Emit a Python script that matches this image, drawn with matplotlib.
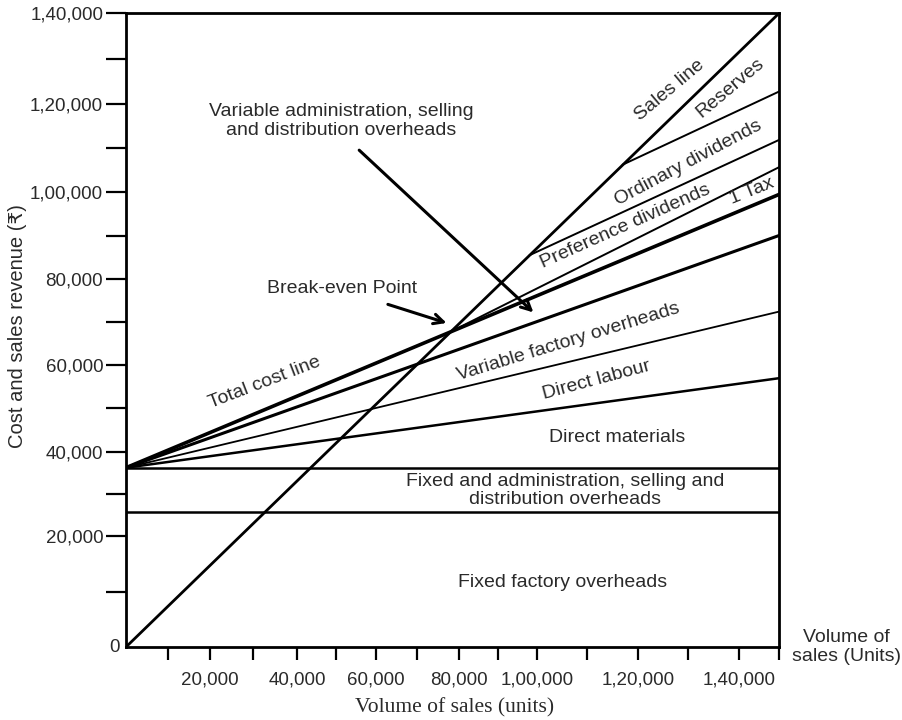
import matplotlib.pyplot as plt
import numpy as np

plt.rcParams['font.family'] = ['Liberation Sans', 'DejaVu Sans']

# volume of sales in units, cost and revenue in rupees
volume_max = 150000
sales_at_max = 140000
fixed_factory_oh = 25600
fixed_total_oh = 36200   # fixed factory + fixed admin, selling and distribution

# cost lines fan out from the fixed-cost level at nil volume
cost_lines = ['Direct materials', 'Direct labour', 'Variable factory overheads', 'Total cost']
cost_at_max = [57000, 72400, 90000, 99500]

# appropriation lines start on the sales line, past break-even
approp_lines = ['Tax', 'Preference dividends', 'Ordinary dividends']
approp_start_x = [78000, 98200, 117000]
approp_start_y = [67760, 85500, 106300]
approp_at_max = [105700, 111900, 122800]

x_major = [20000, 40000, 60000, 80000, 100000, 120000, 140000]
x_labels = ['20,000', '40,000', '60,000', '80,000', '1,00,000', '1,20,000', '1,40,000']
y_major = [20000, 40000, 60000, 80000, 100000, 120000, 140000]
y_labels = ['20,000', '40,000', '60,000', '80,000', '1,00,000', '1,20,000', '1,40,000']

# the printed scales are not evenly spaced, so map them piecewise
x_knots = [0, 20000, 40000, 60000, 80000, 100000, 120000, 140000, 150000]
x_knot_pos = [0, 84, 171, 250, 333, 411, 512, 613, 653]
y_knots = [0, 20000, 40000, 100000, 120000, 140000]
y_knot_pos = [0, 111, 195.3, 454.7, 542.7, 633.7]


def x_fwd(v):
    return np.interp(v, x_knots, x_knot_pos)


def x_inv(v):
    return np.interp(v, x_knot_pos, x_knots)


def y_fwd(v):
    return np.interp(v, y_knots, y_knot_pos)


def y_inv(v):
    return np.interp(v, y_knot_pos, y_knots)


fig = plt.figure(figsize=(9.03, 7.2), dpi=100)
ax = fig.add_axes([126 / 903, 1 - 647 / 720, 653 / 903, 633.7 / 720])
ax.set_xscale('function', functions=(x_fwd, x_inv))
ax.set_yscale('function', functions=(y_fwd, y_inv))
ax.set_xlim(0, volume_max)
ax.set_ylim(0, sales_at_max)

k = 'black'
# fixed costs
ax.plot([0, volume_max], [fixed_factory_oh, fixed_factory_oh], color=k, lw=1.8)
ax.plot([0, volume_max], [fixed_total_oh, fixed_total_oh], color=k, lw=1.8)

# variable cost lines
widths = [1.8, 1.3, 2.2, 2.6]
for end, w in zip(cost_at_max, widths):
    ax.plot([0, volume_max], [fixed_total_oh, end], color=k, lw=w)

# profit appropriation
for sx, sy, end in zip(approp_start_x, approp_start_y, approp_at_max):
    ax.plot([sx, volume_max], [sy, end], color=k, lw=1.4)

# sales line
ax.plot([0, volume_max], [0, sales_at_max], color=k, lw=2.0)

for s in ax.spines.values():
    s.set_linewidth(2.0)

tc = '#2a2a2a'
ax.set_xticks(x_major, x_labels)
ax.set_xticks([10000, 30000, 50000, 70000, 90000, 110000, 130000, 150000], minor=True)
ax.set_yticks(y_major, y_labels)
ax.set_yticks([10000, 30000, 50000, 70000, 90000, 110000, 130000], minor=True)
ax.tick_params(axis='y', which='both', direction='out', length=14.4, width=1.6,
               pad=2, labelsize=13.5, labelcolor=tc)
ax.tick_params(axis='x', which='both', direction='out', length=9.4, width=1.6,
               pad=8, labelsize=13.5, labelcolor=tc)
ax.text(-6 / 653, 0, '0', transform=ax.transAxes, ha='right', va='center',
        fontsize=13.5, color=tc)

fs = 14
band_labels = [
    ('Sales line', 0.833, 0.879, 40),
    ('Reserves', 0.925, 0.882, 40),
    ('Ordinary dividends', 0.861, 0.764, 28),
    ('Preference dividends', 0.764, 0.663, 24),
    ('1 Tax', 0.959, 0.720, 22),
    ('Total cost line', 0.213, 0.418, 21),
    ('Variable factory overheads', 0.677, 0.481, 17),
    ('Direct labour', 0.721, 0.421, 15),
    ('Direct materials', 0.752, 0.330, 0),
    ('Fixed and administration, selling and\ndistribution overheads', 0.672, 0.247, 0),
    ('Fixed factory overheads', 0.669, 0.101, 0),
]
for txt, fx, fy, rot in band_labels:
    ax.text(fx, fy, txt, transform=ax.transAxes, ha='center', va='center',
            rotation=rot, rotation_mode='anchor', fontsize=fs, color=tc,
            linespacing=1.1)

# callouts
ax.text(0.331, 0.565, 'Break-even Point', transform=ax.transAxes,
        ha='center', va='center', fontsize=fs, color=tc)
ax.annotate('', xy=(0.495, 0.510), xytext=(0.397, 0.542),
            xycoords='axes fraction', textcoords='axes fraction',
            arrowprops=dict(arrowstyle='->,head_length=0.7,head_width=0.35',
                            color=k, lw=2.2))
ax.text(0.329, 0.830, 'Variable administration, selling\nand distribution overheads',
        transform=ax.transAxes, ha='center', va='center', fontsize=fs,
        color=tc, linespacing=1.1)
ax.annotate('', xy=(0.627, 0.525), xytext=(0.354, 0.787),
            xycoords='axes fraction', textcoords='axes fraction',
            arrowprops=dict(arrowstyle='->,head_length=0.7,head_width=0.35',
                            color=k, lw=2.2))

ax.text(1.103, 0.0, 'Volume of\nsales (Units)', transform=ax.transAxes,
        ha='center', va='center', fontsize=14, color=tc, linespacing=1.15,
        clip_on=False)

fig.text(18 / 903, 1 - 326 / 720, 'Cost and sales revenue (₹)', rotation=90,
         ha='center', va='center', fontsize=14.5, color=tc)
fig.text(455 / 903, 1 - 708 / 720, 'Volume of sales (units)', ha='center',
         va='center', fontsize=15.5, color=tc, family=['Liberation Serif', 'DejaVu Serif'])

fig.savefig('out.png', dpi=100)
